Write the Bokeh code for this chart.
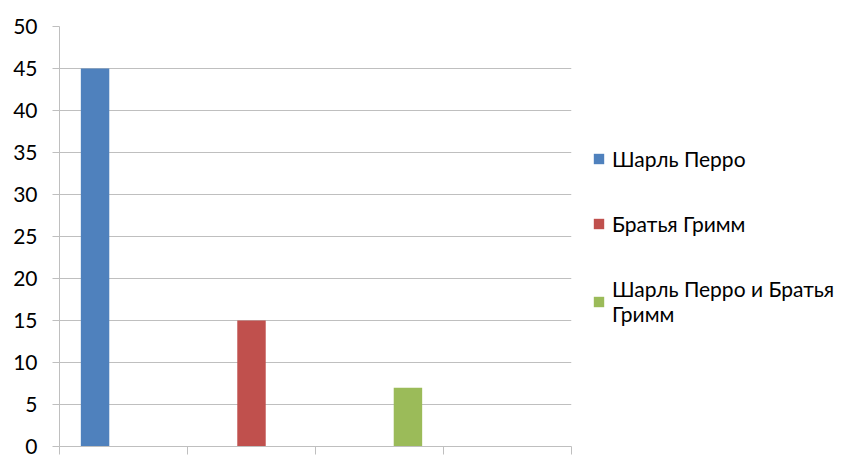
from bokeh.plotting import figure
from bokeh.models import Legend, LegendItem, FixedTicker, Range1d, ColumnDataSource
from bokeh.embed import file_html
from bokeh.resources import INLINE

# ---- data ----
series_names = ["Шарль Перро", "Братья Гримм", "Шарль Перро и Братья\nГримм"]
series_values = [45, 15, 7]
series_category = [0, 1, 2]
n_categories = 4
series_colors = ["#4F81BD", "#C0504D", "#9BBB59"]
y_ticks = [0, 5, 10, 15, 20, 25, 30, 35, 40, 45, 50]

FONT = "Lato"
FONT_SIZE = "21px"
GRID = "#BFBFBF"

p = figure(frame_width=512, frame_height=420, output_backend="svg", toolbar_location=None,
           x_range=Range1d(0, n_categories), y_range=Range1d(0, 50),
           min_border_left=59, min_border_top=26, min_border_bottom=20, min_border_right=0)
p.outline_line_color = None
p.background_fill_color = "white"

# Excel-style clustered columns: gap width 150%
n_series = len(series_names)
bar_w = 1.0 / (n_series + 1.5)
items = []
for j, (name, val, cat, col) in enumerate(zip(series_names, series_values, series_category, series_colors)):
    xc = cat + 0.75 * bar_w + (j + 0.5) * bar_w
    src = ColumnDataSource(dict(x=[xc], top=[val]))
    r = p.vbar(x="x", top="top", bottom=0, width=bar_w, source=src,
               fill_color=col, line_color=None)
    items.append(LegendItem(label=name, renderers=[r]))

# axes
p.yaxis.ticker = FixedTicker(ticks=y_ticks)
p.yaxis.axis_line_color = GRID
p.yaxis.major_tick_line_color = GRID
p.yaxis.major_tick_out = 7
p.yaxis.major_tick_in = 0
p.yaxis.minor_tick_line_color = None
p.yaxis.major_label_text_font = FONT
p.yaxis.major_label_text_font_size = FONT_SIZE
p.yaxis.major_label_text_color = "#000000"
p.yaxis.major_label_standoff = 15

p.xaxis.ticker = FixedTicker(ticks=list(range(n_categories + 1)))
p.xaxis.axis_line_color = GRID
p.xaxis.major_tick_line_color = GRID
p.xaxis.major_tick_out = 8
p.xaxis.major_tick_in = 0
p.xaxis.minor_tick_line_color = None
p.xaxis.major_label_text_font_size = "1px"
p.xaxis.major_label_text_color = None

p.xgrid.grid_line_color = None
p.ygrid.grid_line_color = GRID
p.ygrid.ticker = FixedTicker(ticks=y_ticks)

legend = Legend(items=items, location="center_left",
                label_text_font=FONT, label_text_font_size=FONT_SIZE, label_text_color="#000000",
                glyph_width=13, glyph_height=13, label_standoff=7, spacing=40,
                padding=0, margin=21, border_line_color=None, background_fill_alpha=0)
p.add_layout(legend, "right")
p.min_border_right = 5

open("out.html", "w").write(file_html(p, INLINE))
